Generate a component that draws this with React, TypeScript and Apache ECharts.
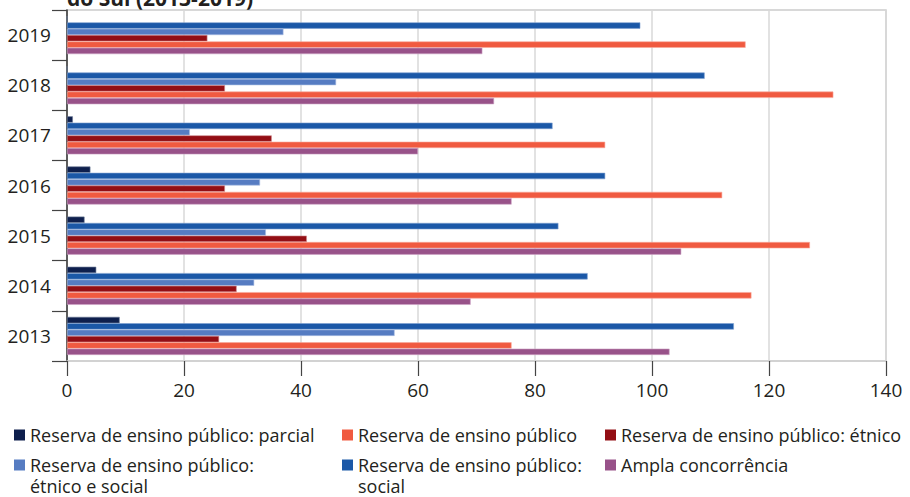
import React, { useEffect, useRef } from "react";
import * as echarts from "echarts";

const years = ["2013", "2014", "2015", "2016", "2017", "2018", "2019"];
const parcial = [9, 5, 3, 4, 1, 0, 0];
const social = [114, 89, 84, 92, 83, 109, 98];
const etnicoSocial = [56, 32, 34, 33, 21, 46, 37];
const etnico = [26, 29, 41, 27, 35, 27, 24];
const publico = [76, 117, 127, 112, 92, 131, 116];
const ampla = [103, 69, 105, 76, 60, 73, 71];

const xTicks = { min: 0, max: 140, interval: 20 };

const names = {
  parcial: "Reserva de ensino público: parcial",
  publico: "Reserva de ensino público",
  etnico: "Reserva de ensino público: étnico",
  etnicoSocial: "Reserva de ensino público: étnico e social",
  social: "Reserva de ensino público: social",
  ampla: "Ampla concorrência",
};

const colors = {
  parcial: "#0e1f4d",
  social: "#1b58a7",
  etnicoSocial: "#567cc2",
  etnico: "#930e14",
  publico: "#f05a40",
  ampla: "#985289",
};
const borders = {
  parcial: "#6a7896",
  social: "#7ea0d0",
  etnicoSocial: "#a9bde2",
  etnico: "#d08a8d",
  publico: "#f8aa9c",
  ampla: "#cda3c4",
};

const FONT = "'Open Sans', sans-serif";
const TEXT = "#231f20";
const LEG_FS = 18;

export default function App() {
  const ref = useRef<HTMLDivElement>(null);
  useEffect(() => {
    if (!ref.current) return;
    const chart = echarts.init(ref.current, undefined, { renderer: "svg" });

    const seriesOrder: Array<[keyof typeof names, number[]]> = [
      ["parcial", parcial],
      ["social", social],
      ["etnicoSocial", etnicoSocial],
      ["etnico", etnico],
      ["publico", publico],
      ["ampla", ampla],
    ];

    const series = seriesOrder.map(([k, d]) => ({
      type: "bar",
      name: names[k],
      data: d,
      barCategoryGap: "24%",
      barGap: "0%",
      itemStyle: { color: colors[k], borderColor: borders[k], borderWidth: 0.6 },
    }));

    const mkLegend = (k: keyof typeof names, left: number, top: number, firstLine?: string) => ({
      show: true,
      left,
      top,
      padding: 0,
      orient: "horizontal",
      data: [names[k]],
      icon: "rect",
      itemWidth: 11,
      itemHeight: 11,
      itemStyle: { borderWidth: 0 },
      selectedMode: false,
      formatter: firstLine ? () => firstLine : undefined,
      textStyle: { fontFamily: FONT, fontSize: LEG_FS, color: TEXT },
    });

    chart.setOption({
      animation: false,
      textStyle: { fontFamily: FONT },
      grid: {
        left: 67,
        right: 24,
        top: 10,
        bottom: 136,
        show: true,
        borderColor: "#cccccc",
        borderWidth: 1.5,
        containLabel: false,
      },
      xAxis: {
        type: "value",
        min: xTicks.min,
        max: xTicks.max,
        interval: xTicks.interval,
        axisLine: { show: true, lineStyle: { color: "#d0d0d0", width: 1.5 } },
        axisTick: { show: true, length: 15, lineStyle: { color: "#444", width: 1.2 } },
        axisLabel: { fontSize: 19, color: TEXT, margin: 19, fontFamily: FONT },
        splitLine: { show: true, lineStyle: { color: "#d9d9d9", width: 1.5 } },
      },
      yAxis: {
        type: "category",
        data: years,
        axisLine: { show: true, lineStyle: { color: "#333", width: 1.5 } },
        axisTick: { show: true, length: 15, lineStyle: { color: "#444", width: 1.2 } },
        axisLabel: { fontSize: 19, color: TEXT, margin: 16, fontFamily: FONT },
        splitLine: { show: false },
      },
      legend: [
        mkLegend("parcial", 14, 426),
        mkLegend("publico", 342, 426),
        mkLegend("etnico", 605, 426),
        mkLegend("etnicoSocial", 14, 456, "Reserva de ensino público:"),
        mkLegend("social", 342, 456, "Reserva de ensino público:"),
        mkLegend("ampla", 605, 456),
      ],
      graphic: [
        {
          type: "text",
          x: 67,
          y: 8,
          style: {
            text: "do Sul (2013-2019)",
            font: `bold 21px ${FONT}`,
            fill: TEXT,
            verticalAlign: "bottom",
          },
        },
        {
          type: "text",
          x: 30,
          y: 486,
          style: {
            text: "étnico e social",
            font: `${LEG_FS}px ${FONT}`,
            fill: TEXT,
            verticalAlign: "middle",
          },
        },
        {
          type: "text",
          x: 358,
          y: 486,
          style: {
            text: "social",
            font: `${LEG_FS}px ${FONT}`,
            fill: TEXT,
            verticalAlign: "middle",
          },
        },
      ],
      series,
    });
    return () => chart.dispose();
  }, []);
  return (
    <div
      ref={ref}
      style={{ position: "absolute", left: 0, top: 0, width: 910, height: 497 }}
    />
  );
}
